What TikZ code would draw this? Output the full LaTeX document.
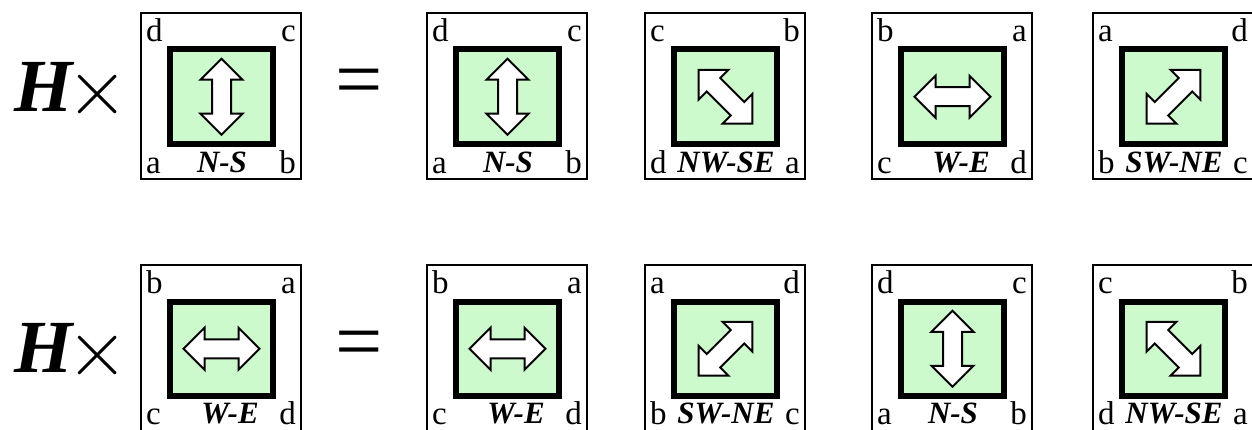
\documentclass[tikz,border=0pt]{standalone}
\usepackage{fontspec}
\setmainfont{Liberation Serif}
\definecolor{panel}{RGB}{204,250,204}
\tikzset{
  outerbox/.style={draw=black, line width=2.2pt, fill=white, inner sep=0pt, outer sep=0pt,
    minimum width=160pt, minimum height=166pt, anchor=north west},
  innerbox/.style={draw=black, line width=6pt, fill=panel, inner sep=0pt, outer sep=0pt,
    minimum width=103pt, minimum height=94.5pt},
  dblarrow/.style={draw=black, line width=2pt, fill=white, line join=miter},
  corner/.style={font=\fontsize{33}{33}\selectfont, inner sep=0pt},
  dirlabel/.style={font=\fontsize{31}{31}\selectfont\bfseries\itshape, inner sep=0pt},
  bigsym/.style={inner sep=0pt}
}
\def\qshift{0}
\def\qlow{162}
% #1 name, #2 x0, #3 y0, #4 TL, #5 TR, #6 BL, #7 BR, #8 label, #9 angle
\newcommand\qbox[9]{%
  \node[outerbox] (#1o) at (#2+1,#3+1) {};
  \node[innerbox] (#1i) at (#2+81.5,#3+84.75) {};
  \begin{scope}[shift={(#1i.center)}, rotate=#9]
    \path[dblarrow] (-38,0) -- (-17,-21) -- (-17,-9.5) -- (17,-9.5) -- (17,-21) -- (38,0)
      -- (17,21) -- (17,9.5) -- (-17,9.5) -- (-17,21) -- cycle;
  \end{scope}
  \node[corner, anchor=base west] (#1tl) at (#2+6,#3+30) {#4};
  \node[corner, anchor=base east] (#1tr) at (#2+156,#3+30) {#5};
  \node[corner, anchor=base west] (#1bl) at (#2+6,#3+\qlow) {#6};
  \node[corner, anchor=base east] (#1br) at (#2+156,#3+\qlow) {#7};
  \node[dirlabel, anchor=base] (#1lab) at (#2+82+\qshift,#3+\qlow-1) {#8};
}
\begin{document}
\begin{tikzpicture}[x=1pt,y=-1pt]
  \useasboundingbox (0,0) rectangle (1252,430);
  \clip (0,0) rectangle (1252,430);
  % top row
  \node[bigsym, anchor=base, font=\fontsize{75}{75}\selectfont\bfseries\itshape] (H1) at (44,112) {H};
  \node[bigsym] (X1) at (97.5,95) {\scalebox{8}{$\times$}};
  \node[bigsym, font=\fontsize{84}{84}\selectfont] (E1) at (359,88.5) {=};
  \qbox{a1}{140}{12}{d}{c}{a}{b}{N-S}{90}
  \qbox{a2}{426}{12}{d}{c}{a}{b}{N-S}{90}
  \qbox{a3}{644}{12}{c}{b}{d}{a}{NW-SE}{-45}
  \def\qshift{8}
  \qbox{a4}{871}{12}{b}{a}{c}{d}{W-E}{0}
  \def\qshift{0}
  \qbox{a5}{1092}{12}{a}{d}{b}{c}{SW-NE}{45}
  % bottom row
  \def\qlow{160}
  \node[bigsym, anchor=base, font=\fontsize{75}{75}\selectfont\bfseries\itshape] (H2) at (44,372) {H};
  \node[bigsym] (X2) at (97.5,355) {\scalebox{8}{$\times$}};
  \node[bigsym, font=\fontsize{84}{84}\selectfont] (E2) at (359,350) {=};
  \def\qshift{8}
  \qbox{b1}{140}{264}{b}{a}{c}{d}{W-E}{0}
  \qbox{b2}{426}{264}{b}{a}{c}{d}{W-E}{0}
  \def\qshift{0}
  \qbox{b3}{644}{264}{a}{d}{b}{c}{SW-NE}{45}
  \qbox{b4}{871}{264}{d}{c}{a}{b}{N-S}{90}
  \qbox{b5}{1092}{264}{c}{b}{d}{a}{NW-SE}{-45}
\end{tikzpicture}
\end{document}
